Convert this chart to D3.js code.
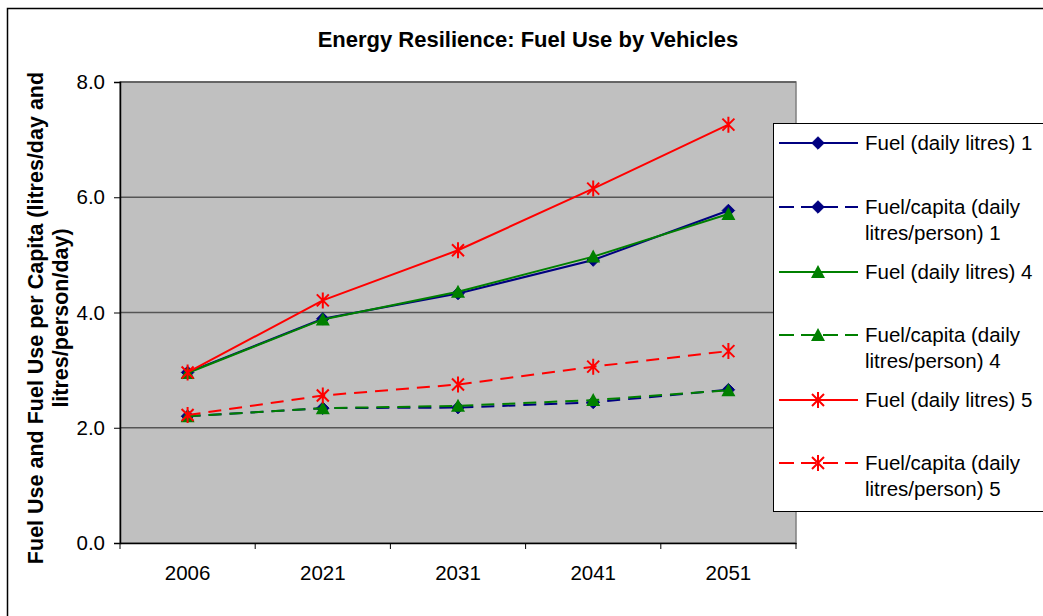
<!DOCTYPE html>
<html><head><meta charset="utf-8">
<script src="https://cdn.jsdelivr.net/npm/d3@7"></script>
<style>body{margin:0;background:#fff;}svg{display:block;font-family:"Liberation Sans",Arial,sans-serif;}</style>
</head><body>
<svg id="c" width="1043" height="616"></svg>
<script>
const categories = ["2006","2021","2031","2041","2051"];
const fuel1 = [2.96, 3.89, 4.33, 4.91, 5.77];
const capita1 = [2.20, 2.34, 2.35, 2.44, 2.66];
const fuel4 = [2.95, 3.88, 4.36, 4.97, 5.71];
const capita4 = [2.20, 2.34, 2.38, 2.48, 2.65];
const fuel5 = [2.96, 4.21, 5.08, 6.15, 7.26];
const capita5 = [2.22, 2.56, 2.75, 3.06, 3.33];
const yTicks = [0, 2, 4, 6, 8];
const seriesNames = ["Fuel (daily litres) 1","Fuel/capita (daily litres/person) 1","Fuel (daily litres) 4","Fuel/capita (daily litres/person) 4","Fuel (daily litres) 5","Fuel/capita (daily litres/person) 5"];

const series = [
  {name: seriesNames[0], values: fuel1, color: "#000080", dash: null, marker: "diamond"},
  {name: seriesNames[1], values: capita1, color: "#000080", dash: "13,8", marker: "diamond"},
  {name: seriesNames[2], values: fuel4, color: "#008000", dash: null, marker: "triangle"},
  {name: seriesNames[3], values: capita4, color: "#008000", dash: "13,8", marker: "triangle"},
  {name: seriesNames[4], values: fuel5, color: "#ff0000", dash: null, marker: "star"},
  {name: seriesNames[5], values: capita5, color: "#ff0000", dash: "13,8", marker: "star"}
];

const FS = 20.5;
const svg = d3.select("#c");
// outer frame
svg.append("rect").attr("x",7.5).attr("y",8.5).attr("width",1060).attr("height",640)
  .attr("fill","#fff").attr("stroke","#000").attr("stroke-width",1.5);

const L = 120, R = 796, T = 82, B = 543;
const x = d3.scaleBand().domain(categories).range([L, R]);
const y = d3.scaleLinear().domain([0, 8]).range([B, T]);

svg.append("rect").attr("x",L).attr("y",T).attr("width",R-L).attr("height",B-T)
  .attr("fill","#c0c0c0").attr("stroke","#808080").attr("stroke-width",1.5);

// gridlines
svg.append("g").selectAll("line").data(yTicks.filter(d=>d>0)).join("line")
  .attr("x1",L).attr("x2",R).attr("y1",d=>y(d)).attr("y2",d=>y(d))
  .attr("stroke","#555").attr("stroke-width",1.5);

// y axis
const yAxis = d3.axisLeft(y).tickValues(yTicks).tickFormat(d3.format(".1f")).tickSize(6).tickPadding(9);
const gy = svg.append("g").attr("transform",`translate(${L},0)`).call(yAxis);
gy.select(".domain").attr("stroke","#000").attr("stroke-width",1.5);
gy.selectAll(".tick line").attr("stroke","#000");
gy.selectAll("text").attr("font-size",FS).attr("fill","#000").attr("font-family","Liberation Sans, Arial, sans-serif");

// x axis
const xAxis = d3.axisBottom(x).tickSize(0).tickPadding(22);
const gx = svg.append("g").attr("transform",`translate(0,${B})`).call(xAxis);
gx.select(".domain").attr("stroke","#000").attr("stroke-width",1.5);
gx.selectAll("text").attr("font-size",FS).attr("fill","#000").attr("font-family","Liberation Sans, Arial, sans-serif");
const bounds = categories.map(c=>x(c)).concat([x(categories[categories.length-1])+x.bandwidth()]);
gx.selectAll(".bt").data(bounds).join("line").attr("class","bt")
  .attr("x1",d=>d).attr("x2",d=>d).attr("y1",0).attr("y2",6).attr("stroke","#000");

// title
svg.append("text").attr("x",528).attr("y",47).attr("text-anchor","middle")
  .attr("font-size",22).attr("font-weight","bold").text("Energy Resilience: Fuel Use by Vehicles");

// y title
const ytg = svg.append("g").attr("transform","translate(43,318) rotate(-90)");
ytg.append("text").attr("x",0).attr("y",0).attr("text-anchor","middle").attr("font-size",21.5).attr("font-weight","bold")
  .text("Fuel Use and Fuel Use per Capita (litres/day and");
ytg.append("text").attr("x",0).attr("y",25).attr("text-anchor","middle").attr("font-size",21.5).attr("font-weight","bold")
  .text("litres/person/day)");

function drawMarker(g, type, color) {
  if (type === "diamond") {
    g.append("path").attr("d", d3.symbol().type(d3.symbolDiamond2).size(100)()).attr("fill",color).attr("stroke",color).attr("stroke-width",1);
  } else if (type === "triangle") {
    g.append("path").attr("d","M0,-7L7,6L-7,6Z").attr("fill",color);
  } else {
    g.append("path").attr("d","M-6,-6L6,6M-6,6L6,-6M0,-8L0,8").attr("stroke",color).attr("stroke-width",2).attr("fill","none");
  }
}

const line = d3.line().x((d,i)=>x(categories[i])+x.bandwidth()/2).y(d=>y(d));
series.forEach(s=>{
  const g = svg.append("g");
  g.append("path").attr("d",line(s.values)).attr("fill","none").attr("stroke",s.color).attr("stroke-width",2)
    .attr("stroke-dasharray",s.dash);
  s.values.forEach((v,i)=>{
    const mg = g.append("g").attr("transform",`translate(${x(categories[i])+x.bandwidth()/2},${y(v)})`);
    drawMarker(mg, s.marker, s.color);
  });
});

// legend
svg.append("rect").attr("x",773.5).attr("y",123.5).attr("width",300).attr("height",388)
  .attr("fill","#fff").attr("stroke","#000").attr("stroke-width",1);
const rowY = [143, 207, 272, 335, 400, 463];
series.forEach((s,i)=>{
  const g = svg.append("g").attr("transform",`translate(0,${rowY[i]})`);
  g.append("line").attr("x1",779).attr("x2",858).attr("y1",0).attr("y2",0).attr("stroke",s.color).attr("stroke-width",2)
    .attr("stroke-dasharray", s.dash ? "15,7" : null);
  const mg = g.append("g").attr("transform","translate(818,0)");
  drawMarker(mg, s.marker, s.color);
  const parts = s.name.indexOf("capita")>=0 ? [s.name.split(" litres/")[0], "litres/" + s.name.split(" litres/")[1]] : [s.name];
  parts.forEach((p,j)=>{
    g.append("text").attr("x",865).attr("y",7 + j*26).attr("font-size",FS).attr("fill","#000").text(p);
  });
});
</script>
</body></html>
